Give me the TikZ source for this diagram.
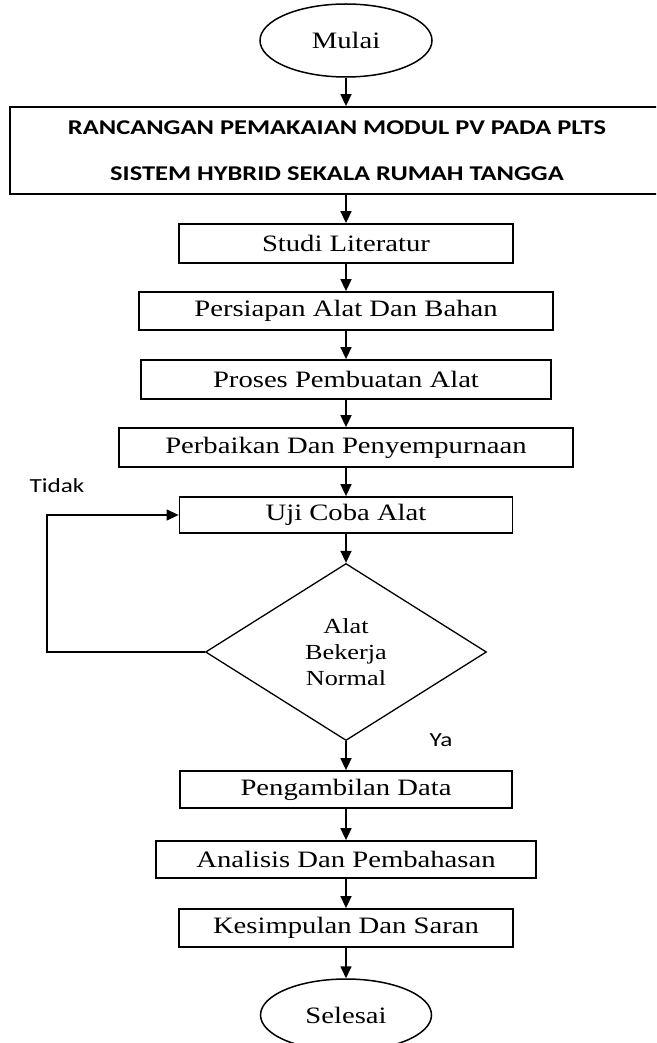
\documentclass[tikz,border=0pt]{standalone}
\usepackage{fontspec}
\setmainfont{Liberation Serif}
\newfontfamily\boxfont{Liberation Serif}[FakeStretch=1.22]
\newfontfamily\calib{Carlito}[FakeStretch=1.26]
\usetikzlibrary{shapes.geometric,arrows.meta}
\begin{document}
\begin{tikzpicture}[x=1pt,y=-1pt,
  proc/.style={draw, line width=1.8pt, rectangle, inner sep=0pt, font=\boxfont\fontsize{23.5}{26}\selectfont},
  term/.style={draw, line width=1.5pt, ellipse, inner sep=0pt, font=\boxfont\fontsize{23.5}{26}\selectfont},
  dec/.style={draw, line width=1.3pt, diamond, aspect=1.59, inner sep=0pt, align=center, font=\boxfont\fontsize{21.5}{26}\selectfont},
  arr/.style={line width=1.6pt, -{Triangle[length=12pt,width=11pt]}},
  fback/.style={line width=1.3pt, -{Triangle[length=12pt,width=11pt]}},
  lbl/.style={font=\calib\fontsize{20}{24}\selectfont, inner sep=0pt}]
\useasboundingbox (0,0) rectangle (656,1043);
\clip (0,0) rectangle (656,1043);

\node[term, minimum width=172pt, minimum height=73pt] (mulai) at (346,40.5) {Mulai};
\node[draw, line width=1.8pt, inner sep=0pt, minimum width=654pt, minimum height=87pt, align=center,
      font=\calib\bfseries\fontsize{21}{24}\selectfont] (title) at (337,150.5)
      {RANCANGAN PEMAKAIAN MODUL PV PADA PLTS\\[22pt]SISTEM HYBRID SEKALA RUMAH TANGGA};
\node[proc, minimum width=334pt, minimum height=39pt] (studi) at (346,243.5) {Studi Literatur};
\node[proc, minimum width=414pt, minimum height=38pt] (siap) at (346,311) {Persiapan Alat Dan Bahan};
\node[proc, minimum width=410pt, minimum height=39pt] (proses) at (346,379.5) {Proses Pembuatan Alat};
\node[proc, minimum width=454pt, minimum height=39pt] (baik) at (346,447.5) {Perbaikan Dan Penyempurnaan};
\node[proc, minimum width=333pt, minimum height=36pt] (uji) at (346,515) {Uji Coba Alat};
\node[dec, minimum width=281pt, minimum height=177pt] (cek) at (346,652) {Alat\\Bekerja\\Normal};
\node[proc, minimum width=332pt, minimum height=37pt] (ambil) at (346,789.5) {Pengambilan Data};
\node[proc, minimum width=380pt, minimum height=37pt] (analisis) at (346,859.5) {Analisis Dan Pembahasan};
\node[proc, minimum width=334pt, minimum height=38pt] (simpul) at (346,928) {Kesimpulan Dan Saran};
\node[term, minimum width=171pt, minimum height=72pt] (selesai) at (346,1015) {Selesai};

\node[lbl] (tidak) at (57,486) {Tidak};
\node[lbl] (ya) at (441,740) {Ya};

\draw[arr] (mulai) -- (mulai |- title.north);
\draw[arr] (title.south -| studi) -- (studi);
\draw[arr] (studi) -- (siap);
\draw[arr] (siap) -- (proses);
\draw[arr] (proses) -- (baik);
\draw[arr] (baik) -- (uji);
\draw[arr] (uji) -- (cek);
\draw[arr] (cek) -- (ambil);
\draw[arr] (ambil) -- (analisis);
\draw[arr] (analisis) -- (simpul);
\draw[arr] (simpul) -- (selesai);

\coordinate (fb) at (47,652);
\draw[fback] (cek.west) -- (fb) |- (uji.west);
\end{tikzpicture}
\end{document}
